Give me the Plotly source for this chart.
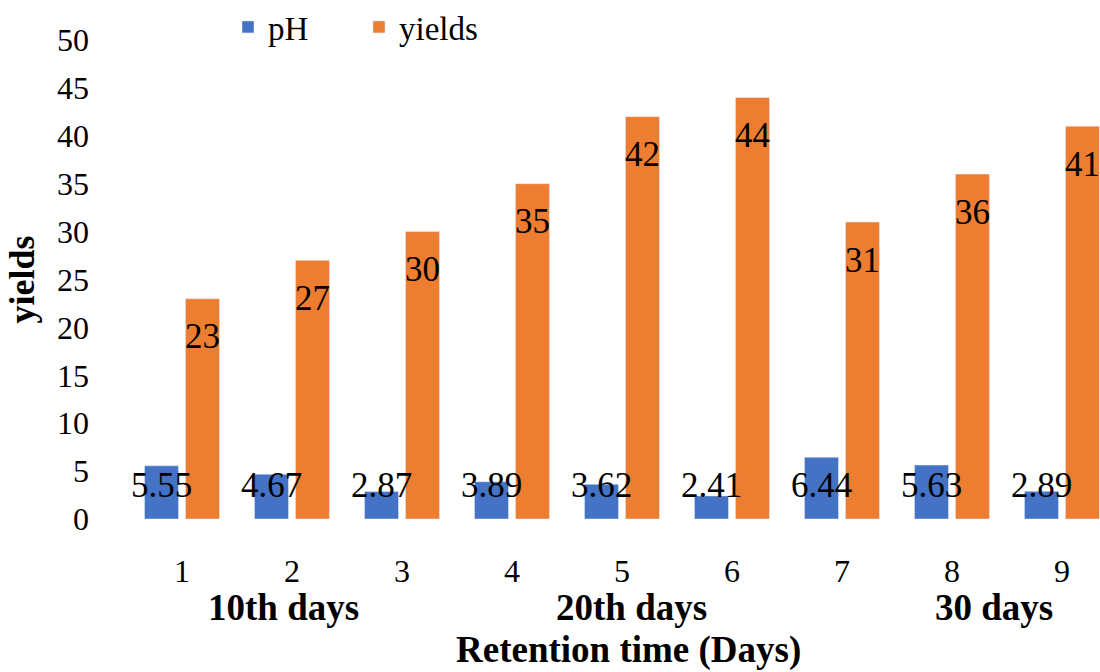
import plotly.graph_objects as go

# Retention-time runs (1-9) grouped by period
runs = ["1", "2", "3", "4", "5", "6", "7", "8", "9"]
ph_values = [5.55, 4.67, 2.87, 3.89, 3.62, 2.41, 6.44, 5.63, 2.89]
yield_values = [23, 27, 30, 35, 42, 44, 31, 36, 41]
period_labels = ["10th days", "20th days", "30 days"]
period_pos = [0.92, 4.09, 7.38]

SERIF = "Liberation Serif, Times New Roman, serif"
BLUE = "#4472C4"
ORANGE = "#ED7D31"

xs = list(range(len(runs)))

fig = go.Figure()
fig.add_trace(go.Bar(x=xs, y=ph_values, name="pH", marker=dict(color=BLUE)))
fig.add_trace(go.Bar(x=xs, y=yield_values, name="yields", marker=dict(color=ORANGE)))

off = 0.186
annotations = []
for i, v in enumerate(ph_values):
    annotations.append(dict(x=i - off, y=0, yshift=34, text=f"{v:.2f}", showarrow=False,
                            xref="x", yref="y", yanchor="middle",
                            font=dict(family=SERIF, size=35, color="#000000")))
for i, v in enumerate(yield_values):
    annotations.append(dict(x=i + off, y=v, yshift=-38, text=f"{v}", showarrow=False,
                            xref="x", yref="y", yanchor="middle",
                            font=dict(family=SERIF, size=35, color="#000000")))
for lbl, p in zip(period_labels, period_pos):
    annotations.append(dict(x=p, y=0, yshift=-88, text=f"<b>{lbl}</b>", showarrow=False,
                            xref="x", yref="y", yanchor="middle",
                            font=dict(family=SERIF, size=37, color="#000000")))
annotations.append(dict(x=(628 - 127) / 973, xref="paper", y=0, yref="y", yshift=-131,
                        text="<b>Retention time (Days)</b>", showarrow=False, yanchor="middle",
                        font=dict(family=SERIF, size=37, color="#000000")))
annotations.append(dict(x=(21 - 127) / 973, xref="paper", y=25, yref="y",
                        text="<b>yields</b>", textangle=-90, showarrow=False,
                        xanchor="center", yanchor="middle",
                        font=dict(family=SERIF, size=36, color="#000000")))

fig.update_layout(
    width=1100, height=672,
    margin=dict(l=127, r=0, t=40, b=153, autoexpand=False),
    paper_bgcolor="white", plot_bgcolor="white",
    barmode="group", bargap=0.255, bargroupgap=0.17,
    showlegend=True,
    legend=dict(orientation="h", x=(228 - 127) / 973, xanchor="left", y=1.0 + 13 / 479,
                yanchor="middle",
                entrywidth=86, entrywidthmode="pixels",
                font=dict(family=SERIF, size=33, color="#000000"),
                bgcolor="rgba(0,0,0,0)"),
    annotations=annotations,
    xaxis=dict(range=[-0.5, 8.5 - 17 / 110.3], tickmode="array", tickvals=xs, ticktext=runs,
               showgrid=False, zeroline=False, showline=False, ticks="",
               tickfont=dict(family=SERIF, size=32, color="#000000"), ticklabelstandoff=30),
    yaxis=dict(range=[0, 50], tickmode="linear", tick0=0, dtick=5,
               showgrid=False, zeroline=False, showline=False, ticks="",
               tickfont=dict(family=SERIF, size=32, color="#000000"), ticklabelstandoff=37),
)

fig.write_html("out.html")
